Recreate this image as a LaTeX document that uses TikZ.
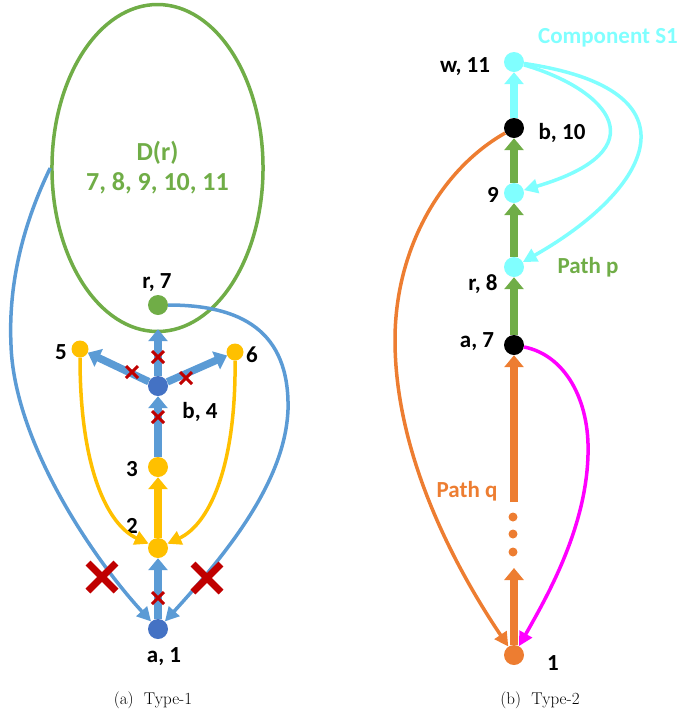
\documentclass[tikz,border=0pt]{standalone}
\usepackage{fontspec}
\newfontfamily\calibri{Carlito}
\usetikzlibrary{arrows.meta,shapes.geometric,shapes.misc}
\definecolor{c_green}{HTML}{70AD47}
\definecolor{c_node}{HTML}{4472C4}
\definecolor{c_edge}{HTML}{5B9BD5}
\definecolor{c_yellow}{HTML}{FFC000}
\definecolor{c_cyan}{HTML}{80FFFF}
\definecolor{c_orange}{HTML}{ED7D31}
\definecolor{c_magenta}{HTML}{FF00FF}
\definecolor{c_red}{HTML}{C00000}
\tikzset{
    dot/.style={circle, inner sep=0pt, minimum size=20pt}, % vertices of the graphs
    small dot/.style={dot, minimum size=17pt},
    tag/.style={font=\calibri\bfseries\fontsize{23}{26}\selectfont, inner sep=0pt, anchor=base}, % vertex labels
    fat/.style={line width=7.5pt, -{Triangle[width=19pt,length=12pt]}}, % tree edges
    arc line/.style={line width=3.5pt, -{Triangle[width=14pt,length=14pt]}}, % back edges
    small x/.style={cross out, draw=c_red, line width=3pt, minimum size=9pt, inner sep=0pt},
    big x/.style={cross out, draw=c_red, line width=7pt, minimum size=21pt, inner sep=0pt},
    caption/.style={font=\fontsize{17}{20}\selectfont, inner sep=0pt, anchor=base},
}

\begin{document}
\begin{tikzpicture}[x=1pt,y=-1pt]
      \useasboundingbox (0,0) rectangle (685,716);

      % (a) Type-1
      \node (d_r) [ellipse, draw=c_green, line width=3.5pt, minimum width=193pt, minimum height=327pt,
                   align=center, text=c_green, font=\calibri\bfseries\fontsize{26}{30}\selectfont]
                   at (157.5,168) {D(r)\\7, 8, 9, 10, 11};
      \node (v_r7) [dot, fill=c_green] at (158,305) {};
      \node (v_b4) [dot, fill=c_node] at (158,386) {};
      \node (v_5) [small dot, fill=c_yellow] at (80,349) {};
      \node (v_6) [small dot, fill=c_yellow] at (235,352) {};
      \node (v_3) [dot, fill=c_yellow] at (158,467) {};
      \node (v_2) [dot, fill=c_yellow] at (158,548) {};
      \node (v_a1) [dot, fill=c_node] at (158,629) {};

      \node (l_r7) [tag] at (157,288) {r, 7};
      \node (l_5) [tag] at (61,359) {5};
      \node (l_6) [tag] at (252,362) {6};
      \node (l_b4) [tag] at (200,418) {b, 4};
      \node (l_3) [tag] at (132,476) {3};
      \node (l_2) [tag] at (132,533) {2};
      \node (l_a1) [tag] at (164,662) {a, 1};

      \path[fat, c_edge]
      (v_b4)  edge  (v_5)
      (v_b4)  edge  (v_6)
      (v_b4)  edge[shorten >=14pt]  (v_r7)
      (v_3)   edge  (v_b4)
      (v_a1)  edge  (v_2)
      ;
      \path[fat, c_yellow] (v_2) edge (v_3);

      \draw[arc line, c_yellow] (v_5) .. controls (80,470) and (108,525) .. (v_2);
      \draw[arc line, c_yellow] (v_6) .. controls (236,470) and (208,525) .. (v_2);
      \draw[arc line, c_edge] (d_r.west) .. controls (25,220) and (8,280) .. (11,345)
                                         .. controls (14,440) and (90,555) .. (v_a1);
      \draw[arc line, c_edge] (v_r7) .. controls (240,305) and (290,330) .. (288,410)
                                     .. controls (285,480) and (230,550) .. (v_a1);

      \node (x_br) [small x] at (158,357) {};
      \node (x_b5) [small x] at (132,372) {};
      \node (x_b6) [small x] at (186,378) {};
      \node (x_3b) [small x] at (158,417) {};
      \node (x_a2) [small x] at (158,598) {};
      \node (x_left) [big x] at (102,577) {};
      \node (x_right) [big x] at (207,578) {};

      \node (cap_a) [caption] at (153,704) {(a)\ \ Type-1};

      % (b) Type-2
      \node (v_w11) [dot, fill=c_cyan] at (514,62) {};
      \node (v_b10) [dot, fill=black] at (514,128) {};
      \node (v_9) [dot, fill=c_cyan] at (514,193) {};
      \node (v_r8) [dot, fill=c_cyan] at (514,267) {};
      \node (v_a7) [dot, fill=black] at (514,345) {};
      \node (v_1) [dot, fill=c_orange] at (514,655) {};
      \foreach \y [count=\i] in {517,534,552}
        \node (o_\i) [circle, fill=c_orange, inner sep=0pt, minimum size=9pt] at (513,\y) {};
      \coordinate (q_low) at (514,568);
      \coordinate (q_high) at (514,502);

      \node (l_s1) [tag, text=c_cyan] at (608,43) {Component S1};
      \node (l_w11) [tag] at (465,72) {w, 11};
      \node (l_b10) [tag] at (562,139) {b, 10};
      \node (l_9) [tag] at (493,202) {9};
      \node (l_r8) [tag] at (483,290) {r, 8};
      \node (l_p) [tag, text=c_green] at (588,273) {Path p};
      \node (l_a7) [tag] at (477,347) {a, 7};
      \node (l_q) [tag, text=c_orange] at (467,497) {Path q};
      \node (l_1) [tag] at (553,670) {1};

      \path[fat, c_green]
      (v_a7)  edge  (v_r8)
      (v_r8)  edge  (v_9)
      (v_9)   edge  (v_b10)
      ;
      \path[fat, c_cyan] (v_b10) edge (v_w11);
      \path[fat, c_orange]
      (v_1)     edge  (q_low)
      (q_high)  edge  (v_a7)
      ;

      \draw[arc line, c_cyan] (v_w11) .. controls (610,90) and (660,150) .. (v_9);
      \draw[arc line, c_cyan] (v_w11) .. controls (705,90) and (650,190) .. (v_r8);
      \draw[arc line, c_orange] (v_b10) .. controls (440,170) and (395,250) .. (395,340)
                                        .. controls (395,450) and (450,560) .. (v_1);
      \draw[arc line, c_magenta] (v_a7) .. controls (565,355) and (590,400) .. (588,455)
                                        .. controls (586,530) and (545,600) .. (v_1);

      \node (cap_b) [caption] at (540,704) {(b)\ \ Type-2};
    \end{tikzpicture}
\end{document}
